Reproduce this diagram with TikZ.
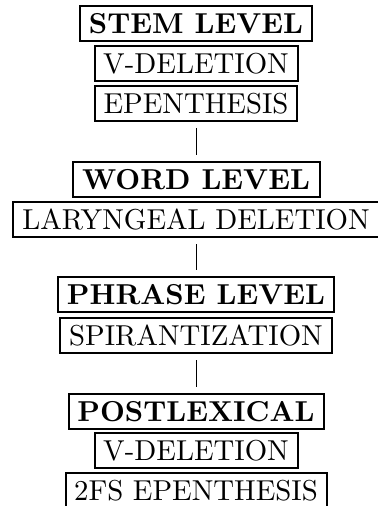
\documentclass[tikz,border=0pt]{standalone}
\usepackage{fontspec}
\setmainfont{lmroman10-regular.otf}[BoldFont=lmroman10-bold.otf]
\begin{document}
\begin{tikzpicture}[x=0.5pt,y=-0.5pt,
  box/.style={draw, line width=1pt, inner xsep=1pt, inner ysep=0pt,
    minimum height=17.5pt, font=\fontsize{14.4}{17}\selectfont, text height=9.8pt, text depth=0pt},
  lvl/.style={box, font=\fontsize{14.4}{17}\selectfont\bfseries},
  link/.style={draw, line width=0.5pt, shorten <=3pt, shorten >=3pt}]
\useasboundingbox (0,0) rectangle (377,506);
\node[lvl, minimum width=116pt]   (stem)  at (196,24)    {STEM LEVEL};
\node[box, minimum width=101.5pt] (vdel)  at (196,64)    {V-DELETION};
\node[box, minimum width=101pt]   (epen)  at (196,103.5) {EPENTHESIS};
\node[lvl, minimum width=123.5pt] (word)  at (196,180)   {WORD LEVEL};
\node[box, minimum width=183pt]   (lary)  at (196,220)   {LARYNGEAL DELETION};
\node[lvl, minimum width=138pt]   (phr)   at (196,295)   {PHRASE LEVEL};
\node[box, minimum width=136pt]   (spir)  at (196,335.5) {SPIRANTIZATION};
\node[lvl, minimum width=127.5pt] (post)  at (196,411.5) {POSTLEXICAL};
\node[box, minimum width=101.5pt] (vdelb) at (196,450.5) {V-DELETION};
\node[box, minimum width=130.5pt] (fs)    at (196,490.5) {2FS EPENTHESIS};
\draw[link] (epen.south) -- (word.north);
\draw[link] (lary.south) -- (phr.north);
\draw[link] (spir.south) -- (post.north);
\end{tikzpicture}
\end{document}
